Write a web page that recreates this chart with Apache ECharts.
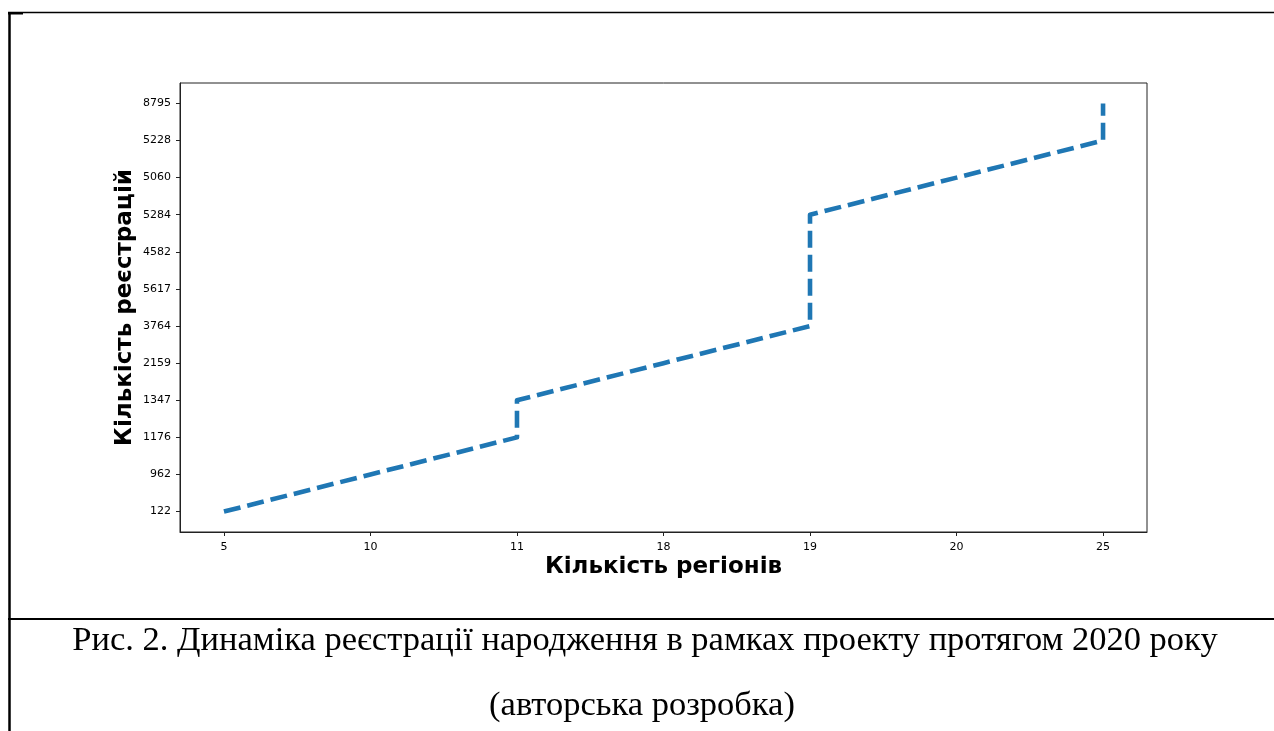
<!DOCTYPE html>
<html>
<head>
<meta charset="utf-8">
<script src="https://cdn.jsdelivr.net/npm/echarts@6/dist/echarts.min.js"></script>
<style>
  html, body { margin: 0; padding: 0; background: #fff; }
  #chart { width: 1274px; height: 731px; }
</style>
</head>
<body>
<div id="chart"></div>
<script>
    // categories in the order they appear on the axes
    const xCategories = ['5', '10', '11', '18', '19', '20', '25']
    const yCategories = ['122', '962', '1176', '1347', '2159', '3764', '5617', '4582', '5284', '5060', '5228', '8795']
    // the plotted pairs
    const regions = ['5', '10', '11', '11', '18', '19', '19', '19', '19', '20', '25', '25']
    const registrations = ['122', '962', '1176', '1347', '2159', '3764', '5617', '4582', '5284', '5060', '5228', '8795']

    const xTitle = 'Кількість регіонів'
    const yTitle = 'Кількість реєстрацій'
    const captionLine1 = 'Рис. 2. Динаміка реєстрації народження в рамках проекту протягом 2020 року'
    const captionLine2 = '(авторська розробка)'

    const points = regions.map((r, i) => [xCategories.indexOf(r), yCategories.indexOf(registrations[i])])
    const xIdx = xCategories.map((_, i) => i)
    const yIdx = yCategories.map((_, i) => i)

    const tickFont = { fontFamily: 'DejaVu Sans', fontSize: 11, color: '#000' }
    const titleFont = { fontFamily: 'DejaVu Sans', fontSize: 23, fontWeight: 'bold', color: '#000' }

    const option = {
        animation: false,
        backgroundColor: '#fff',
        grid: {
            left: 180,
            top: 83,
            width: 967,
            height: 449,
            show: true,
            borderColor: '#222',
            borderWidth: 1
        },
        xAxis: {
            type: 'value',
            min: -0.3,
            max: 6.3,
            name: xTitle,
            nameLocation: 'middle',
            nameGap: 24,
            nameMoveOverlap: false,
            nameTextStyle: titleFont,
            axisLine: { show: true, onZero: false, lineStyle: { color: '#222', width: 1 } },
            axisTick: { show: true, length: 4, lineStyle: { color: '#222' }, customValues: xIdx },
            axisLabel: {
                ...tickFont,
                margin: 10,
                customValues: xIdx,
                formatter: v => xCategories[Math.round(v)]
            },
            splitLine: { show: false }
        },
        yAxis: {
            type: 'value',
            min: -0.55,
            max: 11.55,
            name: yTitle,
            nameLocation: 'middle',
            nameGap: 43,
            nameMoveOverlap: false,
            nameTextStyle: titleFont,
            axisLine: { show: true, onZero: false, lineStyle: { color: '#222', width: 1 } },
            axisTick: { show: true, length: 4, lineStyle: { color: '#222' }, customValues: yIdx },
            axisLabel: {
                ...tickFont,
                margin: 9,
                customValues: yIdx,
                formatter: v => yCategories[Math.round(v)]
            },
            splitLine: { show: false }
        },
        series: [
            {
                type: 'line',
                data: points,
                showSymbol: false,
                symbol: 'none',
                lineStyle: {
                    color: '#1f77b4',
                    width: 4.6,
                    type: [17, 7],
                    cap: 'butt',
                    join: 'round'
                }
            }
        ],
        graphic: [
            // document frame
            { type: 'line', silent: true, shape: { x1: 8, y1: 12.5, x2: 1274, y2: 12.5 }, style: { stroke: '#000', lineWidth: 1.5 } },
            { type: 'rect', silent: true, shape: { x: 8, y: 12, width: 15, height: 2.5 }, style: { fill: '#000' } },
            { type: 'line', silent: true, shape: { x1: 9.5, y1: 12, x2: 9.5, y2: 731 }, style: { stroke: '#000', lineWidth: 2.5 } },
            { type: 'line', silent: true, shape: { x1: 8, y1: 619, x2: 1274, y2: 619 }, style: { stroke: '#000', lineWidth: 2 } },
            // caption
            {
                type: 'text', silent: true,
                style: { text: captionLine1, x: 645, y: 641, align: 'center', verticalAlign: 'middle',
                    font: '34.5px "Liberation Serif"', fill: '#000' }
            },
            {
                type: 'text', silent: true,
                style: { text: captionLine2, x: 642, y: 706, align: 'center', verticalAlign: 'middle',
                    font: '34.5px "Liberation Serif"', fill: '#000' }
            }
        ]
    }

    const chart = echarts.init(document.getElementById('chart'), null, { renderer: 'canvas' })
    chart.setOption(option)
</script>
</body>
</html>
